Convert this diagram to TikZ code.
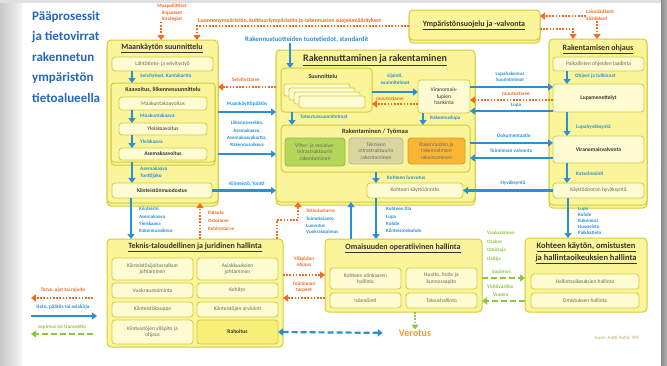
\documentclass[tikz,border=0pt]{standalone}
\usepackage{fontspec}
\setmainfont{Carlito}
\usetikzlibrary{arrows.meta,shadows}
\definecolor{yel}{HTML}{FAF59B}
\definecolor{cream}{HTML}{FDFBD2}
\definecolor{bord}{HTML}{D3CB3A}
\definecolor{blu}{HTML}{2C8FD3}
\definecolor{ora}{HTML}{F46A1F}
\definecolor{grn}{HTML}{8DC63F}
\definecolor{ttl}{HTML}{2468BE}
\definecolor{txt}{HTML}{6B6A5E}
\definecolor{dark}{HTML}{34342A}
\definecolor{vihr}{HTML}{B4D65A}
\definecolor{khak}{HTML}{DAD6A2}
\definecolor{oran}{HTML}{F8B634}
\definecolor{rahk}{HTML}{F7EF78}
\definecolor{vero}{HTML}{F59A2E}
\definecolor{cred}{HTML}{B0A868}
\newcommand\fsz[2]{\fontsize{#1}{#2}\selectfont}
\begin{document}
\begin{tikzpicture}[x=1pt,y=-1pt,
  box/.style={draw=bord, fill=yel, line width=1pt, rounded corners=4pt, inner sep=0pt, outer sep=0pt, anchor=north west},
  stacked/.style={general shadow={fill=yel, draw=bord, line width=1pt, shadow yshift=-3pt}},
  sub/.style={draw=bord, fill=cream, line width=0.8pt, rounded corners=3pt, inner sep=0.5pt, outer sep=0pt, anchor=north west, font=\fsz{5.5}{6.5}, text=txt, align=center},
  hd/.style={font=\bfseries\fsz{8}{9}, text=dark, inner sep=0pt},
  sh/.style={font=\bfseries\fsz{6}{7}, text=dark, inner sep=0pt},
  lb/.style={font=\bfseries\fsz{5.2}{6}, text=blu, inner sep=0pt, align=left},
  olb/.style={lb, text=ora},
  glb/.style={lb, text=grn},
  lst/.style={font=\bfseries\fsz{5}{7.4}, inner sep=0pt, align=left, anchor=north west, text=blu},
  tip/.style={-{Triangle[length=5pt,width=7pt]}},
  inf/.style={draw=blu, line width=2.2pt, tip},
  need/.style={draw=ora, line width=2.2pt, dash pattern=on 1.6pt off 1.6pt, tip},
  deal/.style={draw=grn, line width=2.2pt, dash pattern=on 6pt off 3pt, tip}]

\useasboundingbox (0,0) rectangle (667,365);
% page background with slide edges
\fill[white] (0,0) rectangle (667,365);
\shade[left color=black!22, right color=black!4] (0,0) rectangle (22,365);
\fill[black!12] (0,0) rectangle (667,3);
\shade[left color=black!45, right color=black!30] (661,0) rectangle (667,365);

% heading
\node[anchor=north west, inner sep=0pt, align=left, text=ttl, font=\bfseries\fsz{13}{20.5}] (title) at (32,11)
  {Pääprosessit\\ja tietovirrat\\rakennetun\\ympäristön\\tietoalueella};

% ---------- Maankäytön suunnittelu ----------
\node[box, stacked, minimum width=111pt, minimum height=163pt] (maan) at (107,40) {};
\node[hd] (maant) at (162,48) {\underline{Maankäytön suunnittelu}};
\node[sub, minimum width=101pt, minimum height=14pt] (lahto) at (112,57) {Lähtötieto- ja selvitystyö};
\node[box, stacked, rounded corners=3pt, minimum width=104pt, minimum height=79pt] (kaav) at (111,83) {};
\node[sh] (kaavt) at (163,90) {Kaavoitus, liikennesuunnittelu};
\node[sub, minimum width=88pt, minimum height=13pt] (maak) at (119,97) {Maakuntakaavoitus};
\node[sub, minimum width=88pt, minimum height=12pt, text=dark] (yleis) at (119,123) {Yleiskaavoitus};
\node[sub, minimum width=88pt, minimum height=12pt, text=dark] (asema) at (119,148) {\bfseries Asemakaavoitus};
\node[sub, minimum width=100pt, minimum height=15pt, text=dark] (kmuod) at (112,183) {\bfseries Kiinteistönmuodostus};

\draw[inf] (lahto.south -| 132,0) -- (kaav.north -| 132,0);
\node[lb, anchor=west] (selv) at (140,76) {Selvitykset, Kantakartta};
\draw[inf] (maak.south -| 132,0) -- (yleis.north -| 132,0);
\node[lb, anchor=west] (mkk) at (140,116) {Maakuntakaava};
\draw[inf] (yleis.south -| 132,0) -- (asema.north -| 132,0);
\node[lb, anchor=west] (ylk) at (140,142) {Yleiskaava};
\draw[inf] (kaav.south -| 132,0) -- (kmuod.north -| 132,0);
\node[lb, anchor=west] (ask) at (140,169) {Asemakaava};
\node[lb, anchor=west] (tja) at (140,176.5) {Tonttijako};

% ---------- Rakennuttaminen ja rakentaminen ----------
\node[box, stacked, minimum width=199pt, minimum height=152pt] (rak) at (276,50) {};
\node[hd, font=\bfseries\fsz{10}{11}] (rakt) at (375,60) {\underline{Rakennuttaminen ja rakentaminen}};
\node[box, minimum width=91pt, minimum height=44pt] (suun) at (281,68) {};
\node[sh] (suunt) at (323,76) {Suunnittelu};
\foreach \i in {0,...,3}
  \draw[fill=cream, draw=bord, line width=0.8pt, rounded corners=1.5pt] (284+5*\i,84+4*\i) rectangle ++(66,12);
\node[sub, minimum width=52pt, minimum height=33pt, text=dark] (vir) at (418,80) {Viranomais-\\lupien\\hankinta};
\node[box, minimum width=189pt, minimum height=47pt] (tyo) at (281,125) {};
\node[sh, font=\bfseries\fsz{6.5}{7.5}] (tyot) at (375,132) {Rakentaminen / Työmaa};
\node[sub, fill=vihr, draw=vihr!85!black, minimum width=60pt, minimum height=28pt] (viher) at (285,138) {Viher- ja vesialue-\\infrastruktuurin\\rakentaminen};
\node[sub, fill=khak, draw=khak!85!black, minimum width=54pt, minimum height=26pt] (tekn) at (349,138) {Teknisen\\infrastruktuurin\\rakentaminen};
\node[sub, fill=oran, draw=oran!85!black, minimum width=57pt, minimum height=26pt] (raknus) at (408,138) {Rakennusten ja\\rakennelmien\\rakentaminen};
\node[sub, minimum width=96pt, minimum height=15pt] (kayt) at (367,183) {Kohteen käyttöönotto};

\draw[inf] (suun.east |- 0,92) -- (vir.west |- 0,92);
\node[lb, align=center] (sij) at (395,79) {sijainti,\\[1pt]suunnitelmat};
\draw[need] (vir.west |- 0,104) -- (suun.east |- 0,104);
\node[olb] (muu1) at (390,99) {muutostarve};
\draw[inf] (suun.south -| 292,0) -- (tyo.north -| 292,0);
\node[lb, anchor=west] (tots) at (300,117) {Toteutussuunnitelmat};
\draw[inf] (vir.south -| 423,0) -- (tyo.north -| 423,0);
\node[lb, anchor=west] (rlupa) at (430,118) {Rakennuslupa};
\draw[inf] (tyo.south -| 376,0) -- (kayt.north -| 376,0);
\node[lb, anchor=west] (luov) at (387,178) {Kohteen luovutus};

% ---------- Ympäristönsuojelu ja -valvonta ----------
\node[box, stacked, minimum width=131pt, minimum height=30pt] (ymp) at (409,10) {};
\node[hd] (ympt) at (474,25) {\underline{Ympäristönsuojelu ja -valvonta}};

% ---------- Rakentamisen ohjaus ----------
\node[box, stacked, minimum width=98pt, minimum height=166pt] (ohj) at (549,39) {};
\node[hd] (ohjt) at (598,49) {\underline{Rakentamisen ohjaus}};
\node[sub, minimum width=91pt, minimum height=14pt] (paik) at (553,57) {Paikallisten ohjeiden laadinta};
\node[sub, minimum width=91pt, minimum height=28pt, text=dark] (lupa) at (553,84) {\bfseries Lupamenettelyt};
\node[sub, minimum width=91pt, minimum height=27pt, text=dark] (valv) at (553,136) {\bfseries Viranomaisvalvonta};
\node[sub, minimum width=91pt, minimum height=15pt] (khyv) at (553,183) {Käyttöönoton hyväksyntä};
\draw[inf] (paik.south -| 567,0) -- (lupa.north -| 567,0);
\node[lb, anchor=west] (ohjeet) at (575,76) {Ohjeet ja tulkinnat};
\draw[inf] (lupa.south -| 567,0) -- (valv.north -| 567,0);
\node[lb, anchor=west] (lhyv) at (576,127) {Lupahyväksyntä};
\draw[inf] (valv.south -| 567,0) -- (khyv.north -| 567,0);
\node[lb, anchor=west] (kats) at (576,174) {Katselmointi};

% ---------- Teknis-taloudellinen ja juridinen hallinta ----------
\node[box, minimum width=176pt, minimum height=108pt] (tek) at (107,239) {};
\node[hd] (tekt) at (195,247) {\underline{Teknis-taloudellinen ja juridinen hallinta}};
\node[sub, minimum width=81pt, minimum height=22pt] (t11) at (112,258) {Kiinteistösijoitussalkun\\johtaminen};
\node[sub, minimum width=81pt, minimum height=22pt] (t12) at (197,258) {Asiakkuuksien\\johtaminen};
\node[sub, minimum width=81pt, minimum height=15pt] (t21) at (112,283) {Vuokraustoiminta};
\node[sub, minimum width=81pt, minimum height=15pt] (t22) at (197,283) {Kehitys};
\node[sub, minimum width=81pt, minimum height=15pt] (t31) at (112,302) {Kiinteistökauppa};
\node[sub, minimum width=81pt, minimum height=15pt] (t32) at (197,302) {Kiinteistöjen arviointi};
\node[sub, minimum width=81pt, minimum height=24pt] (t41) at (112,320) {Kiinteistöjen ylläpito ja\\ohjaus};
\node[sub, fill=rahk, text=dark, minimum width=81pt, minimum height=24pt] (rah) at (197,320) {\bfseries Rahoitus};

% ---------- Omaisuuden operatiivinen hallinta ----------
\node[box, minimum width=157pt, minimum height=73pt] (oma) at (325,239) {};
\node[hd] (omat) at (403,248) {\underline{Omaisuuden operatiivinen hallinta}};
\node[sub, minimum width=71pt, minimum height=21pt] (elin) at (330,268) {Kohteen elinkaaren\\hallinta};
\node[sub, minimum width=71pt, minimum height=21pt] (huol) at (406,268) {Huolto, hoito ja\\kunnossapito};
\node[sub, minimum width=71pt, minimum height=15pt] (isan) at (330,293) {Isännöinti};
\node[sub, minimum width=71pt, minimum height=15pt] (talo) at (406,293) {Taloushallinto};

% ---------- Kohteen käytön, omistusten ja hallintaoikeuksien hallinta ----------
\node[box, minimum width=122pt, minimum height=74pt] (koh) at (525,238) {};
\node[hd, align=center, font=\bfseries\fsz{8.5}{12}] (koht) at (586,253) {\underline{Kohteen käytön, omistusten}\\\underline{ja hallintaoikeuksien hallinta}};
\node[sub, minimum width=108pt, minimum height=15pt] (hall) at (531,274) {Hallintaoikeuksien hallinta};
\node[sub, minimum width=108pt, minimum height=15pt] (omis) at (531,293) {Omistuksen hallinta};

% ---------- flows across the top ----------
\node[lst, text=ora, align=center, anchor=north, font=\bfseries\fsz{5}{6.5}] (mp) at (172,4) {Maapoliittiset\\linjaukset\\Strategiat};
\draw[need] (mp.south -| 161,0) -- (maan.north -| 161,0);
\node[olb, anchor=west, font=\bfseries\fsz{5.8}{6}] (suoj) at (198,20.5) {Luonnonympäristön, kulttuuriympäristön ja rakennusten suojelumääräykset};
\draw[need, line width=1.8pt] (ymp.west |- 0,26) -- (197,26) -- (maan.north -| 197,0);
\node[lb, anchor=west, font=\bfseries\fsz{6.8}{7}] (rtt) at (245,39.5) {Rakennustuotteiden tuotetiedot, standardit};
\draw[inf] (rtt.south -| 290,0) -- (suun.north -| 290,0);
\node[lst, text=ora, anchor=north west, font=\bfseries\fsz{5}{7}] (lain) at (586,10) {Lainsäädäntö\\Säädökset};
\draw[need] (lain.west |- 0,16) -- (ymp.east |- 0,16);
\draw[need] (lain.south -| 597,0) -- (ohj.north -| 597,0);
\draw[need, line width=1.8pt] (ymp.east |- 0,29) -- (573,29) -- (ohj.north -| 573,0);

% ---------- Maankäytön suunnittelu -> Rakennuttaminen ----------
\draw[need] (rak.west |- 0,87) -- (maan.east |- 0,87);
\node[olb] (selt) at (246,80) {Selvitystarve};
\draw[inf] (maan.east |- 0,112) -- (rak.west |- 0,112);
\node[lb] (mkp) at (247,104) {Maankäyttöpäätös};
\draw[inf] (maan.east |- 0,154) -- (rak.west |- 0,154);
\node[lst, align=center, anchor=north] (liik) at (247,121) {Liikenneverkko,\\Asemakaava,\\Asemakaavakartta,\\Rakennusoikeus};
\draw[inf] (kmuod.east) -- (kmuod.east -| rak.west);
\node[lb] (kt) at (247,184) {Kiinteistö, Tontti};

% ---------- Rakennuttaminen <-> Rakentamisen ohjaus ----------
\draw[inf] (vir.east |- 0,87) -- (lupa.west |- 0,87);
\node[lb, align=center, font=\bfseries\fsz{5}{5.6}] (lhak) at (510,77) {Lupahakemus\\Suunnitelmat};
\draw[need] (lupa.west |- 0,100) -- (vir.east |- 0,100);
\node[olb] (muu2) at (516,94) {muutostarve};
\draw[inf] (lupa.west |- 0,111) -- (vir.east |- 0,111);
\node[lb] (lupat) at (516,105.5) {Lupa};
\draw[inf] (tyo.east |- 0,143) -- (valv.west |- 0,143);
\node[lb] (dok) at (514,135.5) {Dokumentaatio};
\draw[inf] (valv.west |- 0,158) -- (tyo.east |- 0,158);
\node[lb] (tval) at (511,151) {Toiminnan valvonta};
\draw[inf] (khyv.west) -- (khyv.west -| kayt.east);
\node[lb] (hyv) at (513,183.5) {Hyväksyntä};

% ---------- flows down to the lower row ----------
\draw[inf] (kmuod.south -| 131,0) -- (tek.north -| 131,0);
\node[lst] (kl) at (139,207) {Kiinteistö\\Asemakaava\\Yleiskaava\\Rakennusoikeus};
\draw[need] (tek.north -| 200,0) -- (maan.south -| 200,0);
\node[lst, text=ora, font=\bfseries\fsz{5}{8}] (pal) at (208,211) {Palaute\\Ostotarve\\Kehitystarve};
\draw[need] (tek.north -| 277,0) -- (277,220) -- (298,220) -- (rak.south -| 298,0);
\node[lst, text=ora] (tott) at (306,209) {Toteutustarve};
\node[lst, font=\bfseries\fsz{5}{6.3}] (toim) at (306,217) {Toimeksianto\\Luovutus\\Vuokrasopimus};
\draw[inf] (oma.north -| 351,0) -- (rak.south -| 351,0);
\draw[inf] (kayt.south -| 376,0) -- (oma.north -| 376,0);
\node[lst] (ktila) at (386,207) {Kohteen tila\\Lupa\\Kohde\\Kiinteistönkohde};
\draw[inf] (khyv.south -| 568,0) -- (koh.north -| 568,0);
\node[lst, font=\bfseries\fsz{5}{6}] (lkoh) at (578,207) {Lupa\\Kohde\\Rakennus\\Huoneisto\\Paikkatieto};

% ---------- flows in the lower row ----------
\draw[need] (tek.east |- 0,275) -- (oma.west |- 0,275);
\node[olb, align=center] (yll) at (304,262) {Ylläpidon\\ohjaus};
\draw[need] (oma.west |- 0,298) -- (tek.east |- 0,298);
\node[olb, align=center] (ttar) at (304,287) {Toiminnan\\tarpeet};
\node[inner sep=0pt, text=vero, font=\bfseries\fsz{10}{11}] (verot) at (415,333) {Verotus};
\draw[draw=blu, line width=2.2pt, dash pattern=on 6pt off 3pt, {Triangle[length=5pt,width=7pt]}-{Triangle[length=5pt,width=7pt]}, shorten >=16pt] (rah.east) -- (verot.west);
\draw[draw=grn, line width=2.2pt, dash pattern=on 1.6pt off 1.6pt, tip] (oma.south -| verot.north) -- (verot.north);
\node[lst, text=grn, font=\bfseries\fsz{5}{8.5}] (osap) at (487,231) {Vuokralainen\\Osakas\\Omistaja\\Haltija};
\draw[deal] (oma.east |- 0,278) -- (koh.west |- 0,278);
\node[glb, anchor=west] (sop) at (492,272) {Sopimus};
\draw[deal] (koh.west |- 0,301) -- (oma.east |- 0,301);
\node[glb, anchor=west] (yv) at (487,287) {Yhtiövastike};
\node[glb, anchor=west] (vuok) at (493,295) {Vuokra};

% ---------- legend ----------
\node[olb] (lg1) at (63,290) {Tarve, ajat tai rajoite};
\coordinate (lg1a) at (93,298);
\coordinate (lg1b) at (31,298);
\draw[need] (lg1a) -- (lg1b);
\node[lb] (lg2) at (63,307) {tieto, päätös tai asiakirja};
\coordinate (lg2a) at (31,316);
\coordinate (lg2b) at (97,316);
\draw[inf] (lg2a) -- (lg2b);
\node[glb] (lg3) at (62,327) {sopimus tai transaktio};
\coordinate (lg3a) at (93,334);
\coordinate (lg3b) at (31,334);
\draw[deal] (lg3a) -- (lg3b);

\node[inner sep=0pt, text=cred, font=\fsz{5}{6}] (kuva) at (617,338) {kuva: Antti Autio, YM};
\end{tikzpicture}
\end{document}
